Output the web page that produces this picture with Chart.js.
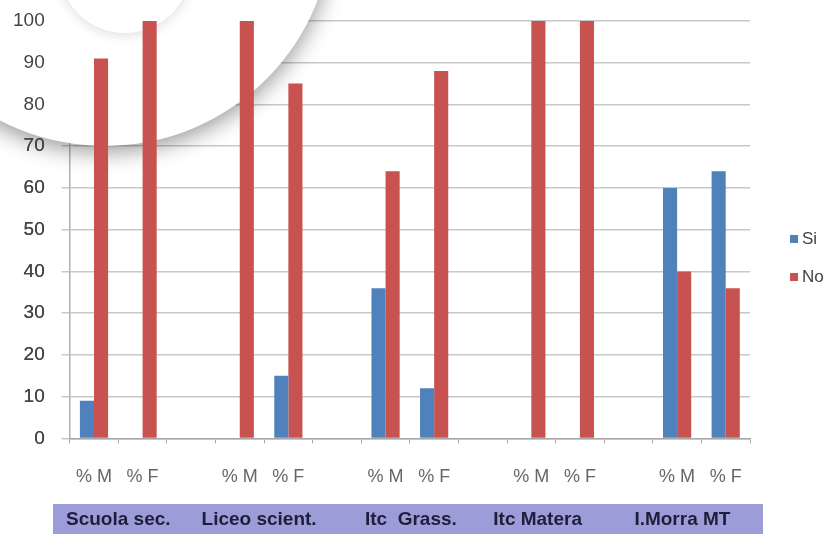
<!DOCTYPE html>
<html>
<head>
<meta charset="utf-8">
<script src="https://cdn.jsdelivr.net/npm/chart.js@4.4.1/dist/chart.umd.min.js"></script>
<style>
  html, body { margin: 0; padding: 0; background: #fff; }
  #wrap { width: 836px; height: 540px; position: relative; }
</style>
</head>
<body>
<div id="wrap"><canvas id="chart"></canvas></div>
<script>
// categorie sull'asse x (una colonna vuota tra le scuole)
const categories = ["% M", "% F", "", "% M", "% F", "", "% M", "% F", "", "% M", "% F", "", "% M", "% F"];
const schools = ["Scuola sec.", "Liceo scient.", "Itc  Grass.", "Itc Matera", "I.Morra MT"];
const seriesNames = ["Si", "No"];
const siValues = [9, 0, null, 0, 15, null, 36, 12, null, 0, 0, null, 60, 64];
const noValues = [91, 100, null, 100, 85, null, 64, 88, null, 100, 100, null, 40, 36];
const yTicks = [0, 10, 20, 30, 40, 50, 60, 70, 80, 90, 100];

const FONT = "'Liberation Sans', Arial, sans-serif";

// cerchio bianco (effetto lente) in alto a sinistra, sotto le barre
const lensPlugin = {
  id: "lens",
  beforeDatasetsDraw(chart) {
    const ctx = chart.ctx;
    ctx.save();
    ctx.shadowColor = "rgba(0,0,0,0.4)";
    ctx.shadowBlur = 22;
    ctx.shadowOffsetY = 6;
    ctx.fillStyle = "#fff";
    ctx.beginPath();
    ctx.arc(105, -82, 228, 0, Math.PI * 2);
    ctx.fill();
    ctx.shadowColor = "rgba(0,0,0,0.12)";
    ctx.shadowBlur = 12;
    ctx.shadowOffsetY = 3;
    ctx.beginPath();
    ctx.arc(125, -33, 66, 0, Math.PI * 2);
    ctx.fill();
    ctx.restore();
    // le etichette dell'asse y restano sopra il cerchio
    const y = chart.scales.y;
    if (y && typeof y.drawLabels === "function") y.drawLabels(chart.chartArea);
  },
};

// banda viola con i nomi delle scuole + legenda a destra
const bandPlugin = {
  id: "band",
  afterDraw(chart) {
    const ctx = chart.ctx;
    const x = chart.scales.x;
    ctx.save();
    ctx.fillStyle = "#9c9cd8";
    ctx.fillRect(53, 504, 710, 30);
    ctx.fillStyle = "#1e1e3a";
    ctx.font = "bold 19px " + FONT;
    ctx.textAlign = "center";
    ctx.textBaseline = "middle";
    const shift = [0, -5, 1, -18, -19];
    schools.forEach((name, i) => {
      const cx = (x.getPixelForValue(i * 3) + x.getPixelForValue(i * 3 + 1)) / 2;
      ctx.fillText(name, cx + shift[i], 520);
    });

    ctx.font = "17px " + FONT;
    ctx.textAlign = "left";
    chart.data.datasets.forEach((ds, i) => {
      const yy = 235 + i * 38;
      ctx.fillStyle = ds.backgroundColor;
      ctx.fillRect(790, yy, 8, 8);
      ctx.fillStyle = "#444";
      ctx.fillText(ds.label, 802, yy + 4);
    });
    ctx.restore();
  },
};

new Chart(document.getElementById("chart"), {
  type: "bar",
  data: {
    labels: categories,
    datasets: [
      { label: seriesNames[0], data: siValues, backgroundColor: "#4f81bd" },
      { label: seriesNames[1], data: noValues, backgroundColor: "#c8524f" },
    ],
  },
  options: {
    responsive: true,
    maintainAspectRatio: false,
    animation: false,
    devicePixelRatio: 1,
    categoryPercentage: 0.58,
    barPercentage: 1,
    layout: { padding: { top: 21, right: 86, bottom: 29, left: -4 } },
    plugins: {
      legend: { display: false },
      tooltip: { enabled: false },
    },
    scales: {
      x: {
        grid: {
          display: true,
          drawOnChartArea: false,
          drawTicks: true,
          tickLength: 5,
          color: "#a8a8a8",
        },
        border: { color: "#a8a8a8", width: 1.5 },
        ticks: {
          padding: 23,
          color: "#666",
          font: { family: FONT, size: 18 },
          maxRotation: 0,
          autoSkip: false,
        },
      },
      y: {
        min: 0,
        max: 100,
        afterBuildTicks: (axis) => {
          axis.ticks = yTicks.map((v) => ({ value: v }));
        },
        afterFit: (axis) => {
          axis.paddingTop = 0;
        },
        grid: { color: "#c8c8c8", lineWidth: 1.5, tickLength: 8 },
        border: { color: "#b0b0b0", width: 1.5 },
        ticks: {
          padding: 17,
          color: "#444",
          font: { family: FONT, size: 19 },
        },
      },
    },
  },
  plugins: [lensPlugin, bandPlugin],
});
</script>
</body>
</html>
